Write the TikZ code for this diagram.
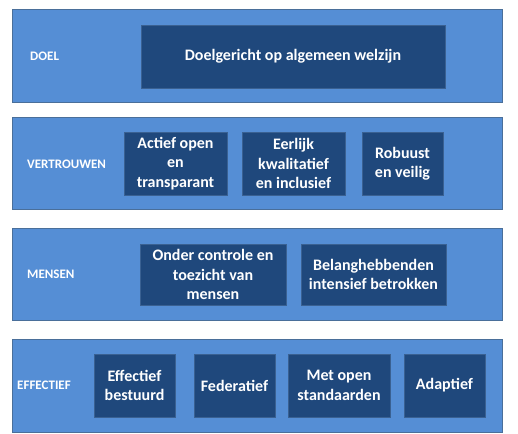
\documentclass[tikz,border=0pt]{standalone}
\usepackage{fontspec}
\setmainfont{Carlito}
\definecolor{bandblue}{HTML}{558ED5}
\definecolor{bandline}{HTML}{4A6F9A}
\definecolor{navy}{HTML}{1F487C}
\definecolor{navyline}{HTML}{3A6192}

\begin{document}
\begin{tikzpicture}[
	x=1pt, y=-1pt,
	band/.style={
		draw=bandline, fill=bandblue, line width=0.8pt,
		minimum width=490pt, inner sep=0pt
	},
	blok/.style={
		draw=navyline, fill=navy, line width=0.5pt,
		inner sep=0pt, align=center, text=white,
		font=\bfseries\fontsize{16}{19.5}\selectfont
	},
	lbl/.style={
		anchor=west, inner sep=0pt, text=white,
		font=\bfseries\fontsize{13}{15}\selectfont
	}
]
\useasboundingbox (0,0) rectangle (518,433);

% Bands (x 12..502)
\node[band, minimum height=93pt] (doel)       at (257,  55.5) {};
\node[band, minimum height=92pt] (vertrouwen) at (257, 163)   {};
\node[band, minimum height=92pt] (mensen)     at (257, 274)   {};
\node[band, minimum height=93pt] (effectief)  at (257, 385.5) {};

% Row labels
\node[lbl] (ldoel)       at (30, 56)  {DOEL};
\node[lbl] (lvertrouwen) at (27, 164) {VERTROUWEN};
\node[lbl] (lmensen)     at (27, 274) {MENSEN};
\node[lbl] (leffectief)  at (17, 385) {EFFECTIEF};

% DOEL
\node[blok, minimum width=304pt, minimum height=63pt] (welzijn) at (293, 56.5)
	{Doelgericht op algemeen welzijn};

% VERTROUWEN: y 132..195
\node[blok, minimum width=103pt, minimum height=63pt] (open)     at (175.5, 163.5)
	{Actief open\\en\\transparant};
\node[blok, minimum width=103pt, minimum height=63pt] (eerlijk)  at (293.5, 163.5)
	{Eerlijk\\kwalitatief\\en inclusief};
\node[blok, minimum width=81pt,  minimum height=63pt] (robuust)  at (402.5, 163.5)
	{Robuust\\en veilig};

% MENSEN: y 244..305
\node[blok, minimum width=146pt, minimum height=61pt] (controle) at (213, 274.5)
	{Onder controle en\\toezicht van\\mensen};
\node[blok, minimum width=145pt, minimum height=61pt] (belang)   at (373.5, 274.5)
	{Belanghebbenden\\intensief betrokken};

% EFFECTIEF: y 354..417
\node[blok, minimum width=81pt,  minimum height=63pt] (bestuurd)  at (134.5, 385.5)
	{Effectief\\bestuurd};
\node[blok, minimum width=81pt,  minimum height=63pt] (federatief) at (234.5, 385.5)
	{Federatief};
\node[blok, minimum width=102pt, minimum height=63pt] (standaard) at (339, 385.5)
	{Met open\\standaarden};
\node[blok, minimum width=81pt,  minimum height=63pt] (adaptief)  at (444.5, 385.5)
	{Adaptief};

\end{tikzpicture}
\end{document}
